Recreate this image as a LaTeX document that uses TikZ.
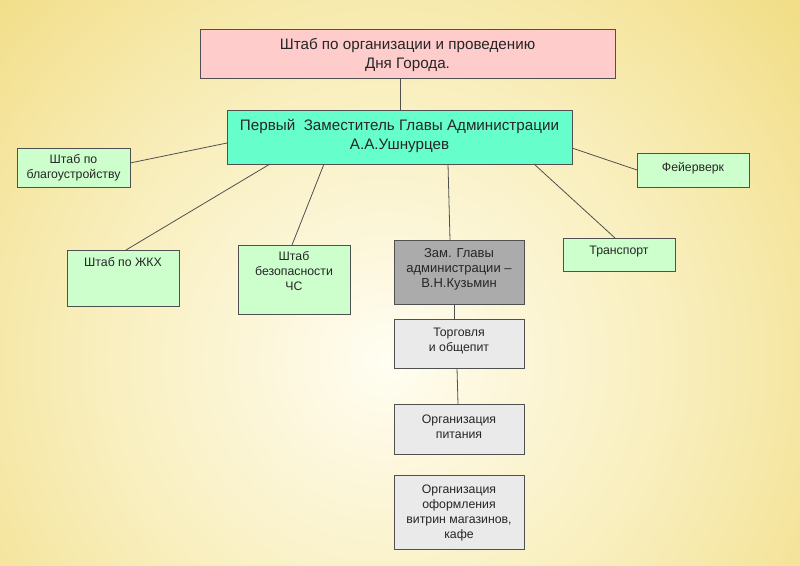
\documentclass[tikz,border=0pt]{standalone}
\usepackage{fontspec}
\setmainfont{Liberation Sans}
\definecolor{bgA}{HTML}{FFFEF2}
\definecolor{bgB}{HTML}{FDF8E0}
\definecolor{bgC}{HTML}{F8EDB8}
\definecolor{bgD}{HTML}{F2DE88}
\definecolor{bgE}{HTML}{EDD972}
\definecolor{bgF}{HTML}{EAD668}
\definecolor{cpink}{HTML}{FFCCCC}
\definecolor{caqua}{HTML}{66FFCC}
\definecolor{cgreen}{HTML}{CCFFCC}
\definecolor{cgray}{HTML}{ABABAB}
\definecolor{clgray}{HTML}{EAEAEA}
\definecolor{cline}{HTML}{505050}
\pgfdeclareradialshading{bgshade}{\pgfpoint{0bp}{0bp}}{color(0bp)=(bgA); color(4bp)=(bgB); color(14bp)=(bgC); color(24bp)=(bgD); color(33bp)=(bgE); color(50bp)=(bgF)}
\tikzset{
  box/.style={draw=cline, line width=0.9pt, rectangle, inner sep=0pt, outer sep=0pt},
  lbl/.style={anchor=north, inner sep=0pt, align=center, text=black!85, font=\fontsize{12.3}{15}\selectfont},
  zamlbl/.style={lbl, font=\fontsize{13}{15.3}\selectfont},
  biglbl/.style={anchor=north, inner sep=0pt, align=center, text=black!85, font=\fontsize{15.2}{19}\selectfont},
  link/.style={draw=cline, line width=0.8pt}
}
\newcommand{\mkbox}[7]{% name, x1, y1, x2, y2, fill, extra
  \node[box, fill=#6, minimum width={#4-#2}, minimum height={#5-#3}, #7] (#1) at ({(#2+#4)/2},{(#3+#5)/2}) {};}
\begin{document}
\begin{tikzpicture}[x=1pt, y=-1pt]
\useasboundingbox (0,0) rectangle (800,565);
\begin{scope}
\clip (0,0) rectangle (800,565);
\fill[bgF] (0,0) rectangle (800,565);
\shade[shading=bgshade] (385,360) circle (560);
\end{scope}
\mkbox{top}{200}{29}{615}{78}{cpink}{}
\mkbox{main}{227}{110}{572}{164}{caqua}{}
\mkbox{blag}{17}{148}{130}{187}{cgreen}{}
\mkbox{zhkh}{67}{250}{179}{306}{cgreen}{}
\mkbox{chs}{238}{245}{350}{314}{cgreen}{}
\mkbox{zam}{394}{240}{524}{304}{cgray}{}
\mkbox{trans}{563}{238}{675}{271}{cgreen}{}
\mkbox{fei}{637}{153}{749}{187}{cgreen}{}
\mkbox{torg}{394}{319}{524}{368}{clgray}{}
\mkbox{pit}{394}{404}{524}{454}{clgray}{}
\mkbox{ofo}{394}{475}{524}{549}{clgray}{}

\node[biglbl] (top-t) at ([yshift=-9pt]top.north) {Штаб по организации и проведению\\Дня Города.};
\node[biglbl] (main-t) at ([yshift=-9pt]main.north) {Первый\ \ Заместитель Главы Администрации\\А.А.Ушнурцев};
\node[lbl] (blag-t) at ([yshift=-6.5pt]blag.north) {Штаб по\\благоустройству};
\node[lbl] (zhkh-t) at ([yshift=-7.5pt]zhkh.north) {Штаб по ЖКХ};
\node[lbl] (chs-t) at ([yshift=-6.5pt]chs.north) {Штаб\\безопасности\\ЧС};
\node[zamlbl] (zam-t) at ([yshift=-8pt]zam.north) {Зам. Главы\\администрации –\\В.Н.Кузьмин};
\node[lbl] (trans-t) at ([yshift=-7.5pt]trans.north) {Транспорт};
\node[lbl] (fei-t) at ([yshift=-9pt]fei.north) {Фейерверк};
\node[lbl] (torg-t) at ([yshift=-8.5pt]torg.north) {Торговля\\и общепит};
\node[lbl] (pit-t) at ([yshift=-10.5pt]pit.north) {Организация\\питания};
\node[lbl] (ofo-t) at ([yshift=-9.5pt]ofo.north) {Организация\\оформления\\витрин магазинов,\\кафе};

\draw[link] ([xshift=200pt]top.south west) -- ([xshift=173pt]main.north west);
\draw[link] ([yshift=-33pt]main.north west) -- ([yshift=-15pt]blag.north east);
\draw[link] ([xshift=43pt]main.south west) -- ([xshift=59pt]zhkh.north west);
\draw[link] ([xshift=97pt]main.south west) -- ([xshift=54pt]chs.north west);
\draw[link] ([xshift=221pt]main.south west) -- ([xshift=56pt]zam.north west);
\draw[link] ([xshift=307pt]main.south west) -- ([xshift=52pt]trans.north west);
\draw[link] ([yshift=-38pt]main.north east) -- ([yshift=-17pt]fei.north west);
\draw[link] ([xshift=60pt]zam.south west) -- ([xshift=60pt]torg.north west);
\draw[link] ([xshift=63pt]torg.south west) -- ([xshift=64pt]pit.north west);
\end{tikzpicture}
\end{document}
